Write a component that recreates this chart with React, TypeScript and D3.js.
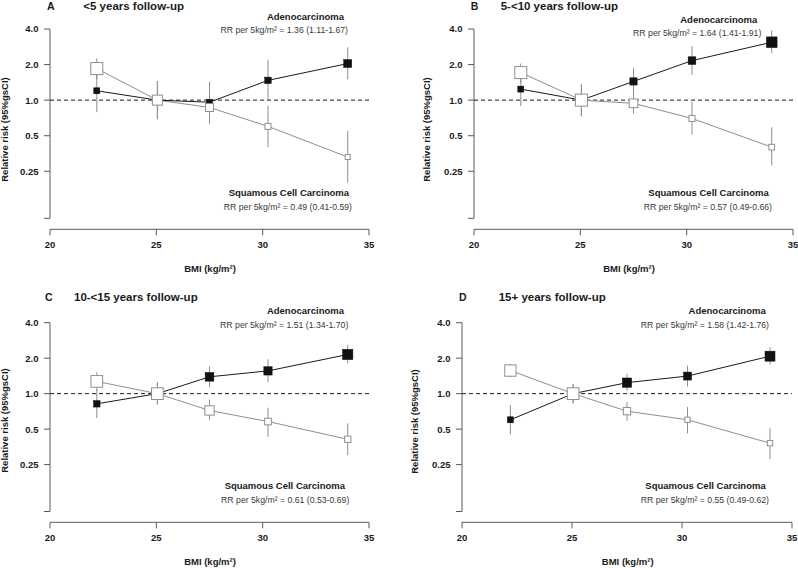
import React from "react";
import * as d3 from "d3";

// ---------- DATA ----------
const bmi = [22.2, 25.05, 27.5, 30.25, 34.0];
const panelIds = ["A", "B", "C", "D"];
const panelTitles = ["<5 years follow-up", "5-<10 years follow-up", "10-<15 years follow-up", "15+ years follow-up"];
const adenoTrend = ["RR per 5kg/m² = 1.36 (1.11-1.67)", "RR per 5kg/m² = 1.64 (1.41-1.91)", "RR per 5kg/m² = 1.51 (1.34-1.70)", "RR per 5kg/m² = 1.58 (1.42-1.76)"];
const sccTrend = ["RR per 5kg/m² = 0.49 (0.41-0.59)", "RR per 5kg/m² = 0.57 (0.49-0.66)", "RR per 5kg/m² = 0.61 (0.53-0.69)", "RR per 5kg/m² = 0.55 (0.49-0.62)"];

const adenoRR = [
  [1.2, 1.0, 0.96, 1.47, 2.04],
  [1.24, 1.0, 1.44, 2.16, 3.09],
  [0.82, 1.0, 1.39, 1.56, 2.15],
  [0.6, 1.0, 1.24, 1.41, 2.08],
];
const adenoLo = [
  [0.79, 0.69, 0.7, 1.0, 1.5],
  [0.89, 0.73, 1.12, 1.64, 2.5],
  [0.62, 0.81, 1.14, 1.25, 1.81],
  [0.45, 0.83, 1.05, 1.15, 1.77],
];
const adenoHi = [
  [1.75, 1.45, 1.44, 2.2, 2.8],
  [1.6, 1.36, 1.88, 2.87, 3.9],
  [1.08, 1.25, 1.7, 1.96, 2.59],
  [0.8, 1.2, 1.47, 1.73, 2.48],
];
const sccRR = [
  [1.85, 1.0, 0.867, 0.6, 0.33],
  [1.71, 1.0, 0.94, 0.7, 0.4],
  [1.27, 1.0, 0.72, 0.58, 0.41],
  [1.57, 1.0, 0.71, 0.6, 0.38],
];
const sccLo = [
  [1.5, 0.69, 0.63, 0.4, 0.2],
  [1.4, 0.73, 0.77, 0.51, 0.28],
  [1.05, 0.81, 0.6, 0.43, 0.3],
  [1.38, 0.83, 0.59, 0.46, 0.28],
];
const sccHi = [
  [2.25, 1.45, 1.18, 0.9, 0.55],
  [2.04, 1.36, 1.15, 0.97, 0.59],
  [1.52, 1.25, 0.89, 0.76, 0.56],
  [1.79, 1.2, 0.85, 0.77, 0.51],
];
// marker weights (square side, reflects precision)
const adenoWeight = [
  [6, 6, 6, 6.5, 8],
  [6, 6, 7.3, 7.7, 10.7],
  [6.5, 6, 8.7, 8.3, 10.3],
  [6, 6, 9.3, 8, 10],
];
const sccWeight = [
  [12, 10, 8, 6, 5],
  [12, 12, 8.7, 6, 5.7],
  [11.7, 11.7, 9.3, 6.7, 6.3],
  [11.3, 11.7, 7.3, 5.3, 5.3],
];
const yTickValues = [0.1, 0.25, 0.5, 1, 2, 4];
const yTickLabels = ["", "0.25", "0.5", "1.0", "2.0", "4.0"];
const xTickValues = [20, 25, 30, 35];

// ---------- LAYOUT ----------
const layouts = [
  { xl: 50, xr: 369, yt: 29, yb: 218.3, ax: 229.3, letterX: 47, titleX: 83.3, titleY: 9.5,
    adX: 344, adY: 20, rr1X: 348, rr1Y: 33, scX: 349, scY: 196, rr2X: 352, rr2Y: 210,
    ylabX: 7.8, ylabY: 129.5, bmiX: 210, bmiY: 272 },
  { xl: 474, xr: 793, yt: 29, yb: 218.3, ax: 229.3, letterX: 470.7, titleX: 500.7, titleY: 9.5,
    adX: 757.3, adY: 23.3, rr1X: 761.3, rr1Y: 35.7, scX: 768.7, scY: 196, rr2X: 772, rr2Y: 210,
    ylabX: 430, ylabY: 129.5, bmiX: 629, bmiY: 272 },
  { xl: 50, xr: 369, yt: 322.7, yb: 511.5, ax: 522.3, letterX: 45, titleX: 74, titleY: 301,
    adX: 344, adY: 314.3, rr1X: 348.3, rr1Y: 327.7, scX: 345, scY: 488.7, rr2X: 349.3, rr2Y: 503.3,
    ylabX: 7.8, ylabY: 420.5, bmiX: 210, bmiY: 565 },
  { xl: 462, xr: 792, yt: 322.7, yb: 511.5, ax: 522.3, letterX: 459, titleX: 498.7, titleY: 301,
    adX: 765.7, adY: 314.3, rr1X: 769, rr1Y: 327.7, scX: 765.7, scY: 488.7, rr2X: 769, rr2Y: 503.3,
    ylabX: 418, ylabY: 421.5, bmiX: 627.7, bmiY: 565 },
];

const FONT = "'Liberation Sans', Arial, Helvetica, sans-serif";
const AXIS = "#5a5a5a";
const GREY = "#8f8f8f";
const DARK = "#1a1a1a";

function Panel({ i }: { i: number }) {
  const L = layouts[i];
  const x = d3.scaleLinear().domain([20, 35]).range([L.xl, L.xr]);
  const y = d3.scaleLog().domain([0.1, 4]).range([L.yb, L.yt]);
  const line = d3
    .line<number>()
    .x((_, k) => x(bmi[k]))
    .y((v) => y(v));

  return (
    <g>
      {/* panel letter and title */}
      <text x={L.letterX} y={L.titleY} fontSize={10.5} fontWeight="bold" fill={DARK} fontFamily={FONT}>
        {panelIds[i]}
      </text>
      <text x={L.titleX} y={L.titleY} fontSize={11.5} fontWeight="bold" fill={DARK} fontFamily={FONT}>
        {panelTitles[i]}
      </text>

      {/* y axis */}
      <line x1={L.xl} x2={L.xl} y1={y(4)} y2={y(0.1)} stroke={AXIS} strokeWidth={1} />
      {yTickValues.map((v, k) => (
        <g key={"yt" + k}>
          <line x1={L.xl - 6} x2={L.xl} y1={y(v)} y2={y(v)} stroke={AXIS} strokeWidth={1} />
          <text x={L.xl - 11.5} y={y(v) + 3.4} textAnchor="end" fontSize={9.5} fontWeight="bold" fill={DARK} fontFamily={FONT}>
            {yTickLabels[k]}
          </text>
        </g>
      ))}
      <text
        transform={`translate(${L.ylabX},${L.ylabY}) rotate(-90)`}
        textAnchor="middle"
        fontSize={9.5}
        fontWeight="bold"
        fill={DARK}
        fontFamily={FONT}
      >
        Relative risk (95%gsCI)
      </text>

      {/* x axis */}
      <line x1={x(20)} x2={x(35)} y1={L.ax} y2={L.ax} stroke={AXIS} strokeWidth={1} />
      {xTickValues.map((v) => (
        <g key={"xt" + v}>
          <line x1={x(v)} x2={x(v)} y1={L.ax} y2={L.ax + 6} stroke={AXIS} strokeWidth={1} />
          <text x={x(v)} y={L.ax + 19} textAnchor="middle" fontSize={9.5} fontWeight="bold" fill={DARK} fontFamily={FONT}>
            {v}
          </text>
        </g>
      ))}
      <text x={L.bmiX} y={L.bmiY} textAnchor="middle" fontSize={9.5} fontWeight="bold" fill={DARK} fontFamily={FONT}>
        BMI (kg/m²)
      </text>

      {/* reference line */}
      <line x1={x(20)} x2={x(35)} y1={y(1)} y2={y(1)} stroke={DARK} strokeWidth={1} strokeDasharray="4,3" />

      {/* confidence intervals */}
      {bmi.map((b, k) => (
        <g key={"ci" + k}>
          <line x1={x(b)} x2={x(b)} y1={y(adenoLo[i][k])} y2={y(adenoHi[i][k])} stroke={GREY} strokeWidth={1} />
          <line x1={x(b)} x2={x(b)} y1={y(sccLo[i][k])} y2={y(sccHi[i][k])} stroke={GREY} strokeWidth={1} />
        </g>
      ))}

      {/* trend lines */}
      <path d={line(sccRR[i]) || ""} fill="none" stroke={GREY} strokeWidth={1} />
      <path d={line(adenoRR[i]) || ""} fill="none" stroke={DARK} strokeWidth={1} />

      {/* markers */}
      {bmi.map((b, k) => {
        const s = adenoWeight[i][k];
        return (
          <rect key={"am" + k} x={x(b) - s / 2} y={y(adenoRR[i][k]) - s / 2} width={s} height={s} fill="#111" stroke="#111" strokeWidth={0.5} />
        );
      })}
      {bmi.map((b, k) => {
        const s = sccWeight[i][k];
        return (
          <rect key={"sm" + k} x={x(b) - s / 2} y={y(sccRR[i][k]) - s / 2} width={s} height={s} fill="#fff" stroke={GREY} strokeWidth={1} />
        );
      })}

      {/* annotations */}
      <text x={L.adX} y={L.adY} textAnchor="end" fontSize={9.5} fontWeight="bold" fill={DARK} fontFamily={FONT}>
        Adenocarcinoma
      </text>
      <text x={L.rr1X} y={L.rr1Y} textAnchor="end" fontSize={8.7} fill="#3a3a3a" fontFamily={FONT}>
        {adenoTrend[i]}
      </text>
      <text x={L.scX} y={L.scY} textAnchor="end" fontSize={9.5} fontWeight="bold" fill={DARK} fontFamily={FONT}>
        Squamous Cell Carcinoma
      </text>
      <text x={L.rr2X} y={L.rr2Y} textAnchor="end" fontSize={8.7} fill="#3a3a3a" fontFamily={FONT}>
        {sccTrend[i]}
      </text>
    </g>
  );
}

export default function App() {
  return (
    <svg
      width={798}
      height={568}
      viewBox="0 0 798 568"
      style={{ position: "absolute", left: 0, top: 0, background: "#fff" }}
    >
      <rect x={0} y={0} width={798} height={568} fill="#fff" />
      {panelIds.map((_, i) => (
        <Panel key={i} i={i} />
      ))}
    </svg>
  );
}
